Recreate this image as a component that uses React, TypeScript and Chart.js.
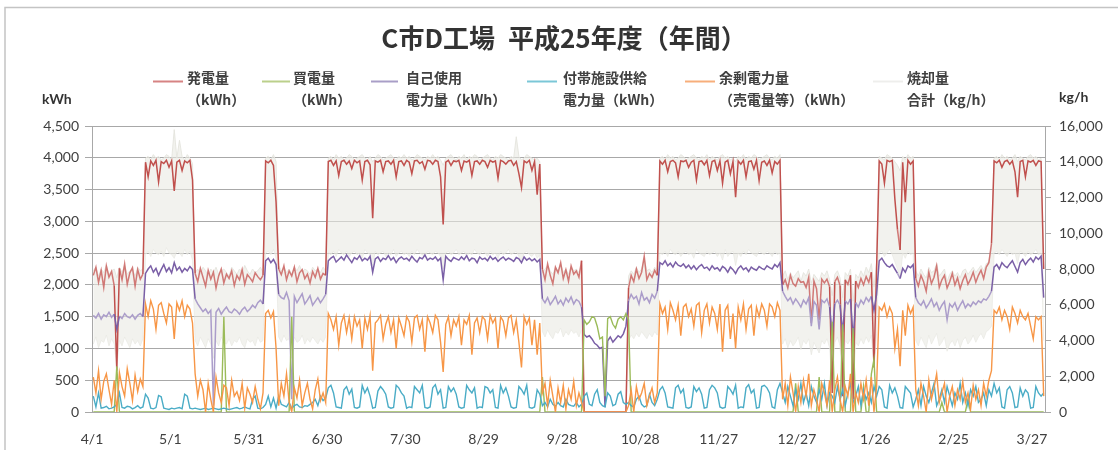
import React, { useEffect, useRef } from "react";
import { Chart, registerables } from "chart.js";

Chart.register(...registerables);

// ---- Data (daily values, fiscal year H25: 4/1 .. 3/31, 365 days) ----
const tickDays = [0, 30, 60, 90, 120, 150, 180, 210, 240, 270, 300, 330, 360];
const tickLabels = ["4/1", "5/1", "5/31", "6/30", "7/30", "8/29", "9/28", "10/28", "11/27", "12/27", "1/26", "2/25", "3/27"];

// 発電量 (kWh)
const generation = [
  2150, 2280, 2040, 2230, 1960, 2300, 2120, 2210, 1990, 650, 2260, 2080, 2330, 2010, 2190, 2270, 1980, 2240, 2090, 2170,
  3930, 3700, 3950, 3880, 3960, 3620, 3940, 3910, 3960, 3850, 3950, 3480, 3930, 3960, 3800, 3950, 3920, 3960, 3650,
  2180, 2050, 2260, 2120, 1980, 2230, 2090, 2200, 1950, 2140, 2250, 2030, 2170, 2100, 2220, 1990, 2150, 2080, 2240, 2010, 2160, 2110, 2050, 2190, 2130, 2080, 2150,
  3950, 3920, 3960, 3880, 3300,
  2250, 2160, 2300, 2080, 2220, 2140, 2280, 2050, 2190, 2240, 2100, 2170, 2030, 2210, 2120, 2260, 2090, 2180, 2150,
  3940, 3960, 3880, 3950, 3720, 3940, 3960, 3900, 3950, 3830,
  3960, 3920, 3950, 3650, 3940, 3960, 3890, 3050, 3950, 3930,
  3960, 3780, 3940, 3950, 3900, 3960, 3700, 3940, 3950, 3880,
  3960, 3930, 3750, 3950, 3960, 3910, 3940, 3820, 3960, 3950,
  3900, 3960, 3940, 3700, 2950, 3930, 3960, 3880, 3950, 3940,
  3960, 3800, 3950, 3930, 3960, 3720, 3940, 3950, 3900, 3960,
  3940, 3850, 3960, 3930, 3950, 3680, 3960, 3940, 3900, 3950,
  3960, 3880, 3940, 3750, 3530, 3950, 3920, 3960, 3800, 3940,
  3420, 3900,
  2250, 2080, 2330, 2150, 2020, 2280, 2190, 2350, 2100, 2240, 2060, 2300, 2170, 2220, 2120, 2380,
  0, 0, 0, 0, 0, 0, 0, 0, 0, 0, 0, 0, 0, 0, 0, 0, 0,
  1950, 2150, 2050, 2250, 2100, 2200, 2450, 2080, 2180, 2120, 2230, 2150,
  3950, 3900, 3960, 3780, 3940, 3960, 3920, 3700, 3950, 3940,
  3960, 3850, 3930, 3960, 3650, 3940, 3950, 3890, 3960, 3720,
  3940, 3960, 3800, 3950, 3600, 3930, 3960, 3750, 3940, 3380,
  3950, 3900, 3960, 3700, 3940, 3950, 3820, 3960, 3640, 3930,
  3950, 3880, 3960, 3760, 3940, 3900, 3960,
  2000, 2080, 1950, 2150, 2020, 1980, 2100, 2040, 2050, 1960,
  2120, 1400, 2060, 1940, 1450, 2090, 2030, 2090, 1970, 300,
  2050, 2120, 1990, 250, 2080, 2010, 2150, 200, 2060, 1960,
  2100, 2000, 2130, 2040, 2200, 700, 2250,
  3950, 3900, 3600, 3960, 3940, 3960, 3350, 2870, 2550, 3930, 3300, 3960, 3900, 3950,
  2100, 1980, 2150, 2050, 1900, 2200, 2020, 2120, 2300, 1960,
  2080, 2150, 1950, 2050, 2180, 2000, 2110, 1940, 2070, 2160,
  2010, 2090, 2200, 2040, 2150, 2230, 2100, 2280, 2350, 2650,
  3950, 3920, 3960, 3850, 3940, 3960, 3900, 3950, 3780, 3380, 3940, 3960, 3700, 3950, 3930, 3960, 3880, 3950, 3940, 2250,
];

// 買電量 (kWh)
const purchase = [
  0, 0, 0, 0, 0, 0, 0, 0, 0, 720, 0, 0, 0, 0, 0, 0, 0, 0, 0, 0,
  0, 0, 0, 0, 0, 0, 0, 0, 0, 0, 0, 0, 0, 0, 0, 0, 0, 0, 0,
  0, 0, 0, 0, 0, 0, 0, 0, 0, 0, 0, 1500, 0, 0, 0, 0, 0, 0, 0, 0, 0, 0, 0, 0, 0, 0, 0,
  0, 0, 0, 0, 0,
  0, 0, 0, 0, 0, 1500, 0, 0, 0, 0, 0, 0, 0, 0, 0, 0, 0, 0, 0,
  0, 0, 0, 0, 0, 0, 0, 0, 0, 0,
  0, 0, 0, 0, 0, 0, 0, 0, 0, 0,
  0, 0, 0, 0, 0, 0, 0, 0, 0, 0,
  0, 0, 0, 0, 0, 0, 0, 0, 0, 0,
  0, 0, 0, 0, 0, 0, 0, 0, 0, 0,
  0, 0, 0, 0, 0, 0, 0, 0, 0, 0,
  0, 0, 0, 0, 0, 0, 0, 0, 0, 0,
  0, 0, 0, 0, 0, 0, 0, 0, 0, 0,
  0, 0,
  550, 0, 0, 0, 0, 0, 0, 0, 0, 0, 0, 0, 0, 0, 0, 0,
  1450, 1380, 1420, 1500, 1480, 1350, 1150, 1180, 250, 1470, 1500, 1380, 1320, 1460, 1500, 1450, 1550,
  1450, 0, 0, 0, 0, 0, 0, 0, 0, 0, 0, 0,
  0, 0, 0, 0, 0, 0, 0, 0, 0, 0,
  0, 0, 0, 0, 0, 0, 0, 0, 0, 0,
  0, 0, 0, 0, 0, 0, 0, 0, 0, 0,
  0, 0, 0, 0, 0, 0, 0, 0, 0, 0,
  0, 0, 0, 0, 0, 0, 0,
  0, 0, 0, 0, 0, 450, 0, 0, 0, 0,
  0, 0, 0, 0, 550, 0, 0, 0, 0, 1420,
  0, 0, 0, 1380, 0, 0, 0, 1320, 0, 0,
  0, 400, 0, 0, 600, 830, 0,
  0, 0, 0, 0, 0, 0, 0, 0, 0, 0, 0, 0, 0, 0,
  0, 0, 0, 0, 0, 0, 0, 0, 0, 0,
  150, 0, 0, 0, 0, 0, 0, 0, 0, 0,
  200, 0, 0, 0, 0, 0, 0, 0, 0, 0,
  0, 0, 0, 0, 0, 0, 0, 0, 0, 0, 0, 0, 0, 0, 0, 0, 0, 0, 0, 0,
];

// 自己使用電力量 (kWh)
const selfUse = [
  1520, 1480, 1550, 1460, 1530, 1500, 1570, 1490, 1540, 1300, 1510, 1470, 1550, 1500, 1480, 1530, 1460, 1520, 1550, 1500,
  2180, 2250, 2300, 2200, 2260, 2150, 2240, 2320, 2210, 2270, 2190, 2350, 2230, 2280, 2200, 2260, 2220, 2290, 2240,
  1780, 1700, 1640, 1580, 1620, 1550, 1600, 100, 1570, 1630, 1540, 1600, 1650, 1580, 1560, 1620, 1590, 1540, 1610, 1650, 1580, 1620, 1680, 1640, 1720, 1760, 1700,
  2380, 2420, 2350, 2400, 2320,
  1850, 1800, 1780, 1880, 1750, 200, 1820, 1720, 1790, 1860, 1700, 1760, 1830, 1680, 1740, 1800, 1720, 1780, 1850,
  2380, 2420, 2450, 2360, 2400, 2440, 2390, 2470, 2410, 2350,
  2430, 2400, 2460, 2380, 2420, 2390, 2450, 2200, 2410, 2440,
  2370, 2420, 2400, 2460, 2390, 2430, 2350, 2410, 2440, 2400,
  2420, 2380, 2450, 2400, 2360, 2430, 2410, 2470, 2390, 2420,
  2400, 2440, 2380, 2420, 2080, 2450, 2400, 2370, 2430, 2410,
  2390, 2440, 2400, 2460, 2380, 2420, 2410, 2350, 2440, 2400,
  2420, 2380, 2450, 2400, 2430, 2370, 2410, 2440, 2390, 2420,
  2400, 2370, 2430, 2410, 2350, 2440, 2390, 2420, 2380, 2410,
  2360, 2400,
  1780, 1720, 1800, 1690, 1750, 1820, 1700, 1760, 1680, 1790, 1730, 1810, 1700, 1770, 1740, 1650,
  1220, 1180, 1200, 1150, 1080, 1050, 1000, 1020, 80, 1120, 1180, 1100, 1150, 1200, 1170, 1230, 1350,
  1750, 1850, 1780, 1820, 1700, 1880, 1760, 1800, 1720, 1850, 1790, 1900,
  2350, 2320, 2380, 2300, 2340, 2280, 2360, 2310, 2290, 2330,
  2270, 2310, 2250, 2300, 2240, 2290, 2320, 2260, 2280, 2230,
  2300, 2250, 2270, 2220, 2290, 2260, 2200, 2280, 2240, 2180,
  2260, 2300, 2240, 2270, 2210, 2280, 2250, 2230, 2290, 2260,
  2240, 2300, 2270, 2250, 2320, 2280, 2350,
  1900, 1820, 1750, 1800, 1700, 1780, 1720, 1650, 1760, 1700,
  1800, 1350, 1740, 1680, 1300, 1760, 1720, 1780, 1650, 1200,
  1700, 1760, 1680, 1250, 1750, 1700, 1780, 1150, 1720, 1650,
  1760, 1700, 1800, 1740, 1820, 1600, 1850,
  2380, 2420, 2350, 2300, 2280, 2320, 2250, 2180, 2100, 2260, 2200, 2300, 2270, 2320,
  1800, 1720, 1680, 1750, 1640, 1700, 1780, 1660, 1720, 1600,
  1680, 1740, 1450, 1700, 1650, 1720, 1600, 1680, 1750, 1640,
  1700, 1660, 1730, 1690, 1750, 1720, 1780, 1760, 1820, 1900,
  2280, 2320, 2250, 2350, 2300, 2270, 2330, 2380, 2290, 2200, 2350, 2400, 2320, 2380, 2420, 2360, 2440, 2400, 2450, 1800,
];

// 付帯施設供給電力量 (kWh)
const auxSupply = [
  250, 80, 300, 60, 70, 90, 50, 60, 80, 120, 300, 70, 60, 90, 80, 50, 70, 100, 60, 80,
  280, 220, 60, 50, 70, 260, 240, 60, 50, 40, 60, 50, 60, 70, 50, 280, 250, 60, 50,
  60, 50, 40, 50, 60, 40, 50, 60, 50, 40, 50, 60, 50, 40, 50, 60, 70, 50, 60, 80, 60, 50, 200, 250, 60, 50, 70,
  120, 250, 80, 220, 60,
  250, 120, 100, 80, 150, 60, 100, 120, 80, 70, 100, 90, 120, 150, 200, 100, 250, 180, 220,
  380, 420, 300, 80, 70, 60, 350, 400, 280, 360,
  70, 60, 80, 420, 300, 380, 250, 60, 70, 330,
  400, 350, 280, 80, 60, 70, 420, 380, 300, 250,
  60, 80, 70, 400, 350, 300, 420, 70, 60, 80,
  380, 430, 280, 350, 60, 70, 400, 320, 380, 280,
  80, 60, 70, 420, 350, 300, 380, 60, 80, 70,
  400, 380, 300, 350, 70, 60, 420, 300, 380, 250,
  80, 60, 70, 400, 350, 280, 420, 70, 60, 80,
  350, 280,
  100, 150, 80, 200, 120, 90, 150, 100, 80, 200, 120, 100, 90, 150, 80, 120,
  250, 300, 120, 100, 280, 350, 150, 100, 80, 300, 250, 100, 120, 280, 320, 150, 120,
  150, 100, 80, 200, 250, 120, 80, 100, 280, 150, 100, 200,
  350, 400, 300, 80, 70, 60, 380, 420, 300, 360,
  70, 60, 80, 400, 320, 380, 280, 60, 70, 350,
  420, 380, 300, 80, 60, 70, 400, 350, 280, 420,
  60, 80, 70, 380, 430, 300, 350, 60, 70, 400,
  420, 380, 300, 80, 60, 350, 450,
  300, 150, 400, 250, 100, 350, 200, 450, 150, 300,
  100, 400, 250, 150, 350, 200, 450, 100, 300, 250,
  150, 400, 200, 350, 100, 300, 450, 150, 250, 400,
  100, 350, 200, 300, 150, 400, 250,
  400, 350, 80, 60, 420, 300, 380, 250, 70, 60, 400, 350, 300, 80,
  200, 350, 100, 400, 250, 150, 300, 450, 100, 200,
  350, 150, 400, 250, 100, 300, 200, 450, 150, 300,
  100, 350, 250, 400, 150, 200, 300, 100, 350, 250,
  450, 300, 380, 80, 60, 350, 400, 300, 70, 80, 380, 250, 350, 300, 60, 70, 400, 300, 250, 300,
];

// 余剰電力量（売電量等） (kWh)
const surplus = [
  550, 300, 650, 200, 480, 600, 350, 120, 500, 0, 620, 400, 250, 680, 450, 180, 580, 320, 520, 400,
  1700, 1500, 1750, 1620, 1300, 1680, 1720, 1550, 1400, 1700, 1650, 1150, 1720, 1600, 1750, 1500, 1680, 1620, 1400,
  600, 250, 500, 350, 0, 450, 200, 0, 550, 300, 150, 420, 380, 100, 500, 250, 320, 180, 450, 60, 380, 280, 150, 400, 200, 50, 300,
  1550, 1600, 1480, 1580, 1000,
  100, 450, 250, 600, 150, 0, 380, 220, 500, 100, 300, 450, 200, 50, 350, 520, 180, 300, 150,
  1550, 1450, 1300, 1500, 1050, 1400, 1520, 1250, 1480, 1150,
  1500, 1350, 1450, 1000, 1480, 1300, 1520, 650, 1400, 1450,
  1520, 1150, 1380, 1500, 1250, 1450, 1000, 1480, 1350, 1200,
  1500, 1420, 1100, 1480, 1520, 1300, 1450, 950, 1500, 1400,
  1250, 1520, 1450, 1100, 630, 1380, 1500, 1200, 1450, 1350,
  1500, 1050, 1450, 1380, 1520, 900, 1400, 1480, 1250, 1500,
  1450, 1150, 1520, 1400, 1480, 1000, 1500, 1430, 1200, 1480,
  1520, 1250, 1450, 1100, 700, 1500, 1380, 1480, 1050, 1450,
  900, 1400,
  300, 450, 100, 500, 250, 0, 380, 150, 420, 50, 350, 200, 480, 100, 300, 150,
  0, 0, 0, 0, 0, 0, 0, 0, 0, 0, 0, 0, 0, 0, 0, 0, 0,
  100, 350, 0, 400, 200, 300, 450, 100, 250, 380, 150, 300,
  1700, 1550, 1650, 1300, 1720, 1600, 1450, 1680, 1200, 1650,
  1700, 1500, 1620, 1350, 1680, 1720, 1250, 1600, 1700, 1400,
  1650, 1550, 1300, 1700, 950, 1600, 1680, 1150, 1550, 1000,
  1650, 1450, 1700, 1300, 1620, 1680, 1200, 1650, 1500, 1700,
  1600, 1350, 1700, 1650, 1500, 1720, 1600,
  200, 450, 100, 550, 300, 0, 400, 150, 500, 250,
  600, 100, 350, 200, 0, 450, 300, 100, 500, 0,
  350, 550, 200, 0, 400, 250, 600, 0, 300, 150,
  450, 200, 500, 100, 550, 0, 400,
  1650, 1600, 1700, 1500, 1650, 1550, 1000, 1300, 720, 1600, 1200, 1680, 1550, 1650,
  350, 100, 450, 250, 0, 500, 200, 380, 600, 150,
  300, 450, 0, 250, 400, 100, 350, 200, 480, 150,
  300, 50, 420, 200, 350, 100, 450, 250, 500, 650,
  1600, 1550, 1650, 1450, 1600, 1500, 1300, 1650, 1550, 1400, 1600, 1500, 1450, 1550, 1350, 1150, 1500, 1450, 1500, 250,
];

// 焼却量合計 (kg/h): daily upper and lower envelope of the hourly trace
const incinerationHigh = [
  7900, 8100, 7600, 8000, 7800, 8200, 7700, 7900, 8000, 7500, 8100, 7800, 8200, 7700, 7900, 8000, 7600, 8100, 7900, 8000,
  14200, 14300, 14100, 14400, 14200, 14300, 14100, 14200, 14400, 14300, 14100, 15800, 14200, 15200, 14300, 14100, 14400, 14200, 13900,
  7800, 8000, 7700, 8100, 7900, 7600, 8000, 7800, 8100, 7700, 7900, 8000, 7800, 7600, 8100, 7900, 7700, 8000, 7800, 8200, 7900, 7700, 8000, 7800, 7900, 8100, 7800,
  14200, 14300, 14100, 14400, 14000,
  8200, 7900, 8100, 7800, 8000, 7700, 8100, 7900, 8200, 7800, 8000, 7900, 7700, 8100, 7900, 8000, 7800, 8100, 7900,
  14200, 14300, 14100, 14400, 14200, 14300, 14100, 14200, 14400, 14300,
  14100, 14200, 14300, 14400, 14200, 14100, 14300, 14000, 14200, 14400,
  14300, 14100, 14200, 14300, 14400, 14200, 14100, 14300, 14200, 14400,
  14200, 14300, 14100, 14200, 14400, 14300, 14200, 14100, 14300, 14200,
  14400, 14200, 14300, 14100, 13800, 14200, 14300, 14400, 14200, 14100,
  14300, 14200, 14400, 14100, 14300, 14200, 14400, 14300, 14100, 14200,
  14300, 14400, 14200, 14100, 14300, 14200, 14400, 14300, 14200, 14100,
  14300, 14200, 15400, 14300, 14100, 14200, 14400, 14300, 14200, 14100,
  14200, 14000,
  7800, 8000, 8200, 7900, 7700, 8100, 7900, 8300, 7800, 8000, 7700, 8100, 7900, 8000, 7800, 8200,
  0, 0, 0, 0, 0, 0, 0, 0, 0, 0, 0, 0, 0, 0, 0, 0, 0,
  7600, 7900, 7700, 8100, 7800, 8000, 8600, 7900, 8000, 7800, 8100, 7900,
  14200, 14300, 14100, 14400, 14200, 14300, 14100, 14200, 14400, 14300,
  14100, 14200, 14300, 14400, 14200, 14100, 14300, 14200, 14400, 14100,
  14300, 14200, 14100, 14300, 14400, 14200, 14300, 14100, 14200, 14000,
  14300, 14200, 14400, 14100, 14300, 14200, 14400, 14300, 14100, 14200,
  14300, 14400, 14200, 14100, 14300, 14200, 14400,
  7600, 7900, 7400, 7800, 7500, 7700, 7900, 7300, 7800, 7600,
  8000, 7200, 7700, 7500, 7300, 7800, 7600, 7900, 7400, 6500,
  7700, 7900, 7500, 6400, 7800, 7600, 8000, 6200, 7700, 7500,
  7900, 7600, 8100, 7800, 8300, 7000, 8400,
  14300, 14200, 14100, 14400, 14300, 14200, 14000, 13800, 13500, 14300, 14100, 14400, 14200, 14300,
  7900, 7600, 8000, 7700, 7500, 8100, 7800, 7900, 8300, 7600,
  7800, 8000, 7300, 7700, 7900, 7600, 7800, 7500, 7900, 8000,
  7700, 7900, 8100, 7800, 8000, 8200, 7900, 8300, 8400, 9200,
  14200, 14300, 14100, 14400, 14200, 14300, 14100, 14200, 14400, 14000, 14300, 14200, 14100, 14300, 14400, 14200, 14300, 14100, 14200, 8000,
];

const incinerationLow = [
  3800, 4200, 3600, 4000, 3900, 4300, 3700, 4100, 3800, 2500, 4000, 3700, 4200, 3900, 3600, 4100, 3800, 4000, 3700, 4100,
  8800, 9000, 8700, 9100, 8900, 8800, 9000, 8700, 9200, 8900, 8800, 8600, 9000, 8900, 8700, 9100, 8800, 9000, 8500,
  4000, 3700, 4200, 3900, 3600, 4100, 3800, 3000, 4000, 3700, 4200, 3900, 3800, 4100, 3700, 4000, 3900, 4200, 3800, 3600, 4100, 3900, 4000, 3700, 4200, 3900, 4000,
  8900, 9000, 8800, 9100, 8600,
  4200, 3900, 4300, 4000, 4100, 3000, 4200, 3900, 4000, 4300, 3800, 4100, 3900, 4200, 4000, 3800, 4100, 3900, 4200,
  8900, 8800, 9000, 8700, 9100, 8900, 8800, 9000, 8700, 8900,
  9000, 8800, 8900, 8600, 9100, 8900, 8800, 8200, 9000, 8800,
  8900, 9000, 8700, 8900, 8800, 9100, 8700, 8900, 9000, 8800,
  8900, 8700, 9000, 8800, 9100, 8900, 8800, 8700, 9000, 8900,
  8800, 9000, 8900, 8700, 8000, 8900, 9000, 8800, 8900, 9100,
  8800, 8900, 9000, 8700, 8900, 8800, 9100, 8900, 8800, 9000,
  8900, 8700, 9000, 8800, 8900, 8600, 9000, 8800, 8900, 9100,
  8800, 8900, 9000, 8700, 8500, 8900, 9000, 8800, 8700, 8900,
  8600, 8800,
  4500, 4200, 4600, 4300, 4100, 4500, 4400, 4700, 4200, 4500, 4300, 4600, 4400, 4500, 4200, 4600,
  0, 0, 0, 0, 0, 0, 0, 0, 0, 0, 0, 0, 0, 0, 0, 0, 0,
  4000, 4300, 4100, 4400, 4200, 4500, 4300, 4100, 4400, 4200, 4500, 4300,
  8900, 8800, 9000, 8700, 9100, 8900, 8800, 9000, 8700, 8900,
  9000, 8800, 8900, 8600, 9100, 8900, 8800, 8700, 9000, 8800,
  8900, 9000, 8700, 8900, 8500, 9100, 8700, 8900, 9000, 8200,
  8900, 8700, 9000, 8800, 9100, 8900, 8800, 8700, 9000, 8900,
  8800, 9000, 8900, 8700, 9000, 8800, 8900,
  3800, 4100, 3600, 4000, 3700, 3900, 4200, 3500, 4000, 3800,
  4100, 3200, 3900, 3600, 3300, 4000, 3800, 4100, 3600, 1500,
  3900, 4200, 3700, 1400, 4000, 3800, 4100, 1200, 3900, 3700,
  4100, 3800, 4200, 3900, 4300, 2500, 4400,
  8900, 9000, 8700, 8900, 9100, 8800, 8400, 8000, 7500, 8900, 8600, 9000, 8800, 8900,
  4000, 3700, 4200, 3900, 3600, 4300, 3800, 4100, 4400, 3700,
  3900, 4200, 3400, 3800, 4000, 3700, 4100, 3600, 4000, 4200,
  3800, 4000, 4300, 3900, 4200, 4400, 4100, 4500, 4600, 4800,
  8900, 9000, 8800, 9100, 8900, 8700, 9000, 8800, 8900, 8300, 9000, 8900, 8700, 9000, 8800, 8900, 9100, 8800, 8900, 4000,
];

const legendItems = [
  { lines: ["発電量", "（kWh）"], color: "rgba(200,90,90,0.75)", x0: 153, x1: 183, tx: 187 },
  { lines: ["買電量", "（kWh）"], color: "rgba(170,196,110,0.8)", x0: 262, x1: 290, tx: 293 },
  { lines: ["自己使用", "電力量（kWh）"], color: "rgba(140,125,180,0.75)", x0: 371, x1: 398, tx: 406 },
  { lines: ["付帯施設供給", "電力量（kWh）"], color: "rgba(90,185,205,0.8)", x0: 527, x1: 557, tx: 563 },
  { lines: ["余剰電力量", "（売電量等）（kWh）"], color: "rgba(246,160,100,0.85)", x0: 685, x1: 715, tx: 719 },
  { lines: ["焼却量", "合計（kg/h）"], color: "#eeeeec", x0: 873, x1: 903, tx: 907 },
];

const toXY = (arr: number[]) => arr.map((v, i) => ({ x: i + 0.5, y: v }));
const isLowOp = (i: number) => generation[i] > 1000 && generation[i] < 3000;

const decorPlugin = {
  id: "decor",
  beforeDraw(chart: any) {
    const ctx = chart.ctx;
    ctx.save();
    ctx.fillStyle = "#ffffff";
    ctx.fillRect(0, 0, chart.width, chart.height);
    ctx.strokeStyle = "#c4c4c4";
    ctx.lineWidth = 1.5;
    ctx.strokeRect(5, 7.5, chart.width + 20, chart.height + 20);
    ctx.restore();
  },
  afterDraw(chart: any) {
    const ctx = chart.ctx;
    ctx.save();
    ctx.fillStyle = "#333333";
    ctx.textBaseline = "middle";
    ctx.textAlign = "center";
    ctx.font = 'bold 26px "Noto Sans CJK JP"';
    ctx.fillText("C市D工場\u2002平成25年度（年間）", 564, 38);

    ctx.textAlign = "left";
    ctx.font = 'bold 14px "Noto Sans CJK JP"';
    ctx.fillStyle = "#404040";
    for (const it of legendItems) {
      ctx.strokeStyle = it.color;
      ctx.lineWidth = 2;
      ctx.beginPath();
      ctx.moveTo(it.x0, 81.5);
      ctx.lineTo(it.x1, 81.5);
      ctx.stroke();
      ctx.fillText(it.lines[0], it.tx, 78);
      ctx.fillText(it.lines[1], it.tx, 100);
    }
    ctx.font = 'bold 14px "Lato"';
    ctx.fillStyle = "#333333";
    ctx.fillText("kWh", 42, 99);
    ctx.fillText("kg/h", 1059, 97);
    ctx.restore();
  },
};

export default function App() {
  const ref = useRef<HTMLCanvasElement>(null);
  useEffect(() => {
    document.body.style.margin = "0";
    const axisFont = { family: "Lato", size: 14 };
    const chart = new Chart(ref.current as HTMLCanvasElement, {
      type: "line",
      data: {
        datasets: [
          {
            label: "余剰電力量（売電量等）(kWh)",
            data: toXY(surplus),
            borderColor: "#f79646",
            borderWidth: 1.4,
            yAxisID: "y",
            order: 0,
          },
          {
            label: "付帯施設供給電力量(kWh)",
            data: toXY(auxSupply),
            borderColor: "#4aacc6",
            borderWidth: 1.4,
            yAxisID: "y",
            order: 1,
          },
          {
            label: "買電量(kWh)",
            data: toXY(purchase),
            borderColor: "#9bbb59",
            borderWidth: 1.4,
            yAxisID: "y",
            order: 2,
          },
          {
            label: "自己使用電力量(kWh)",
            data: toXY(selfUse),
            borderColor: "#7a5fa6",
            borderWidth: 1.5,
            yAxisID: "y",
            order: 3,
            segment: {
              borderColor: (c: any) => (isLowOp(c.p0DataIndex) && isLowOp(c.p1DataIndex) ? "#ab9dca" : "#7a5fa6"),
            },
          },
          {
            label: "発電量(kWh)",
            data: toXY(generation),
            borderColor: "#c0504d",
            borderWidth: 1.5,
            yAxisID: "y",
            order: 4,
            segment: {
              borderColor: (c: any) => (isLowOp(c.p0DataIndex) && isLowOp(c.p1DataIndex) ? "rgba(200,90,88,0.8)" : "#c0504d"),
            },
          },
          {
            label: "焼却量合計(kg/h)",
            data: toXY(incinerationHigh),
            borderColor: "rgba(228,228,222,0.9)",
            backgroundColor: "rgba(234,234,227,0.6)",
            borderWidth: 1,
            fill: 6,
            yAxisID: "y2",
            order: 5,
          },
          {
            label: "焼却量合計 low",
            data: toXY(incinerationLow),
            borderColor: "rgba(228,228,222,0.6)",
            borderWidth: 1,
            fill: false,
            yAxisID: "y2",
            order: 6,
          },
        ],
      },
      options: {
        responsive: false,
        animation: false,
        parsing: false,
        normalized: true,
        layout: { padding: { top: 126, left: 0, right: 0, bottom: 0 } },
        elements: { point: { radius: 0 }, line: { tension: 0 } },
        plugins: { legend: { display: false }, title: { display: false }, tooltip: { enabled: false } },
        scales: {
          x: {
            type: "linear",
            min: 0,
            max: 365,
            afterBuildTicks: (s: any) => {
              s.ticks = tickDays.map((v) => ({ value: v }));
            },
            afterFit: (s: any) => {
              s.height = 38;
            },
            ticks: {
              autoSkip: false,
              maxRotation: 0,
              padding: 11,
              font: axisFont,
              color: "#404040",
              callback: (_v: any, i: number) => tickLabels[i],
            },
            grid: { display: false },
            border: { display: false },
          },
          y: {
            position: "left",
            min: 0,
            max: 4500,
            afterFit: (s: any) => {
              s.width = 92;
            },
            ticks: {
              stepSize: 500,
              padding: 6,
              font: axisFont,
              color: "#404040",
              callback: (v: any) => Number(v).toLocaleString("en-US"),
            },
            grid: { color: "#a8a8a8", tickLength: 7, lineWidth: 1 },
            border: { color: "#a8a8a8" },
          },
          y2: {
            position: "right",
            min: 0,
            max: 16000,
            afterFit: (s: any) => {
              s.width = 73;
            },
            ticks: {
              stepSize: 2000,
              padding: 8,
              font: axisFont,
              color: "#404040",
              callback: (v: any) => Number(v).toLocaleString("en-US"),
            },
            grid: { drawOnChartArea: false, color: "#a8a8a8", tickLength: 6 },
            border: { color: "#a8a8a8" },
          },
        },
      },
      plugins: [decorPlugin],
    } as any);
    return () => chart.destroy();
  }, []);
  return (
    <div style={{ width: 1118, height: 450, position: "relative" }}>
      <canvas ref={ref} width={1118} height={450} style={{ width: "1118px", height: "450px", display: "block" }} />
    </div>
  );
}
